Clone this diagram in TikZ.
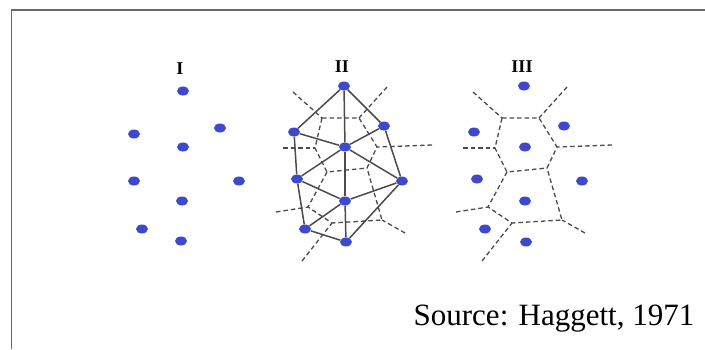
\documentclass[tikz,border=0pt]{standalone}
\usepackage{fontspec}
\setmainfont{Liberation Serif}
\usetikzlibrary{shapes.geometric}
\definecolor{siteblue}{RGB}{62,72,206}
\definecolor{linkgray}{RGB}{75,75,75}
\definecolor{framegray}{RGB}{105,105,105}
\begin{document}
\begin{tikzpicture}[x=1pt,y=-1pt,
  site/.style={ellipse,fill=siteblue,inner sep=0pt,minimum width=12pt,minimum height=9pt},
  link/.style={draw=linkgray,line width=1.5pt},
  cell/.style={draw=linkgray,line width=1.3pt,dash pattern=on 4.5pt off 3pt},
  panel/.style={font=\bfseries\fontsize{18}{18}\selectfont}]
\useasboundingbox (0,0) rectangle (705,349);
\draw[framegray,line width=1.5pt] (705,10) -| (11.5,349);

% panel I: the sites alone
\path (180,69) node[panel] (lbli) {I}
  (183,91) node[site] (i1) {}
  (134,134) node[site] (i2) {}
  (220,128) node[site] (i3) {}
  (183,147) node[site] (i4) {}
  (134,181) node[site] (i5) {}
  (239,181) node[site] (i6) {}
  (182,201) node[site] (i7) {}
  (142,229) node[site] (i8) {}
  (181,241) node[site] (i9) {};

% panels II and III: same sites, same cells
\foreach \p/\dx/\txt in {ii/0/II,iii/180/III}{
  \begin{scope}[xshift=\dx]
  \path (342,67) node[panel] (lbl\p) {\txt}
    (344,86) node[site] (\p1) {}
    (294,132) node[site] (\p2) {}
    (384,126) node[site] (\p3) {}
    (345,147) node[site] (\p4) {}
    (297,179) node[site] (\p5) {}
    (402,181) node[site] (\p6) {}
    (345,201) node[site] (\p7) {}
    (305,229) node[site] (\p8) {}
    (346,242) node[site] (\p9) {};
  \coordinate (\p v1) at (322,118);
  \coordinate (\p v2) at (359,118);
  \coordinate (\p v3) at (315,148);
  \coordinate (\p v4) at (377,147);
  \coordinate (\p v5) at (327,172);
  \coordinate (\p v6) at (367,168);
  \coordinate (\p v7) at (308,207);
  \coordinate (\p v8) at (382,220);
  \coordinate (\p v9) at (332,223);
  \coordinate (\p r1) at (293,92);
  \coordinate (\p r2) at (387,87);
  \coordinate (\p r3) at (283,148);
  \coordinate (\p r4) at (432,145);
  \coordinate (\p r5) at (276,212);
  \coordinate (\p r6) at (405,233);
  \coordinate (\p r7) at (302,261);
  \draw[cell] (\p v1) -- (\p v2) -- (\p v4) -- (\p v6) -- (\p v5) -- (\p v3) -- cycle;
  \draw[cell] (\p v5) -- (\p v7) -- (\p v9) -- (\p v8) -- (\p v6);
  \foreach \v/\r in {1/1,2/2,3/3,4/4,7/5,8/6,9/7}
    \draw[cell] (\p r\r) -- (\p v\v);
  \end{scope}
}

% panel II: triangulation
\foreach \a/\b in {1/2,1/3,1/4,2/4,3/4,2/5,4/5,4/6,3/6,5/7,4/7,6/7,5/8,7/8,8/9,7/9,6/9}
  \draw[link] (ii\a) -- (ii\b);

\node[anchor=base,font=\fontsize{31}{36}\selectfont] (src) at (554,325) {Source: Haggett, 1971};
\end{tikzpicture}
\end{document}
